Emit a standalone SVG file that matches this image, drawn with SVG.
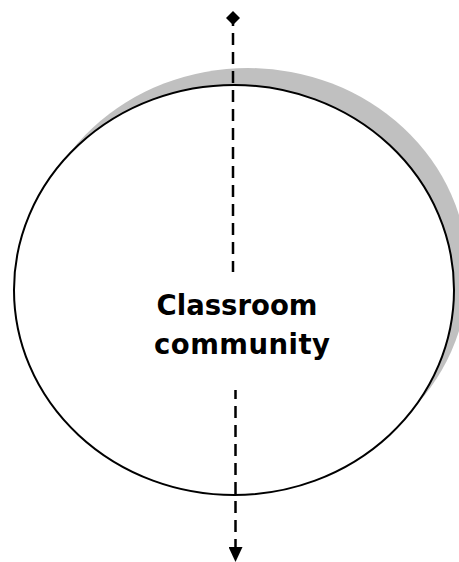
<svg xmlns="http://www.w3.org/2000/svg" width="459" height="562" viewBox="0 0 459 562">
  <style>
    .shadow { fill: #c0c0c0; stroke: none; }
    .body { fill: #ffffff; stroke: #000000; stroke-width: 2; }
    .label { font-family: "DejaVu Sans", Verdana, sans-serif; font-weight: bold; font-size: 27.5px; fill: #000000; text-anchor: middle; }
    .axis { stroke: #000000; stroke-width: 2.5; stroke-dasharray: 12 7; fill: none; }
  </style>
  <defs>
    <marker id="diamond" viewBox="0 0 14 14" refX="7" refY="7" markerWidth="14" markerHeight="14" markerUnits="userSpaceOnUse" orient="auto">
      <path d="M7 0 L14 7 L7 14 L0 7 Z" fill="#000000"/>
    </marker>
    <marker id="arrow" viewBox="0 0 15 14" refX="0" refY="7" markerWidth="15" markerHeight="14" markerUnits="userSpaceOnUse" orient="auto">
      <path d="M0 0 L15 7 L0 14 Z" fill="#000000"/>
    </marker>
  </defs>

  <!-- the node: a white ellipse with a grey drop shadow up and to the right -->
  <g id="classroom-community">
    <ellipse class="shadow" cx="248" cy="273" rx="220" ry="205"/>
    <ellipse class="body" cx="234" cy="290" rx="220" ry="205"/>
    <text class="label" x="237" y="315">Classroom</text>
    <text class="label" x="242" y="354" textLength="176" lengthAdjust="spacing">community</text>
  </g>

  <!-- vertical dashed axis through the node, broken around the label -->
  <g id="connectors">
    <line class="axis" x1="233" y1="18" x2="233" y2="272" stroke-dashoffset="4" marker-start="url(#diamond)"/>
    <line class="axis" x1="235.5" y1="390" x2="235.5" y2="547" stroke-dashoffset="3" marker-end="url(#arrow)"/>
  </g>
</svg>
